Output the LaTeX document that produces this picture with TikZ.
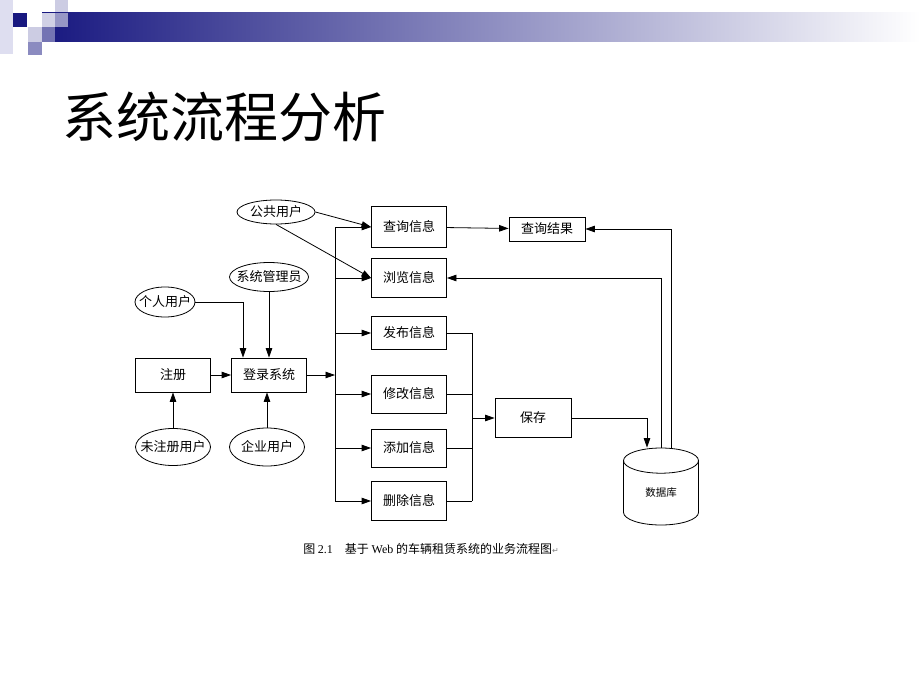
\documentclass[tikz,border=0pt]{standalone}
\usepackage{fontspec}
\newfontfamily\cjk{Noto Sans CJK SC}
\newfontfamily\lat{Liberation Serif}
\newfontfamily\sym{DejaVu Sans}
\usetikzlibrary{arrows.meta,shapes.geometric}
\definecolor{navyc}{RGB}{24,24,128}
\definecolor{lilac}{RGB}{222,222,240}
\newcommand\cl[1]{\makebox[0pt]{#1}}

\begin{document}
\begin{tikzpicture}[x=1pt, y=-1pt, line width=0.8pt, >={Triangle[length=9.5pt,width=6.5pt]},
	box/.style={draw, minimum width=75pt, minimum height=38pt, inner sep=0pt, font=\cjk\fontsize{13}{13}\selectfont},
	usr/.style={draw, ellipse, inner sep=0pt, font=\cjk\fontsize{13}{13}\selectfont}]
	\useasboundingbox[fill=white] (0,0) rectangle (920,690);
	% banner
	\fill[lilac] (0,0) rectangle (13,54);
	\fill[navyc] (13,13) rectangle (27,27);
	\fill[navyc!22] (28,27) rectangle (42,42);
	\fill[navyc!50] (28,42) rectangle (42,55);
	\fill[navyc!22] (55,0) rectangle (68,13);
	\shade[left color=navyc, middle color=navyc!45, right color=white] (42,13) rectangle (920,42);
	\fill[navyc!20] (42,13) rectangle (55,27);
	\fill[navyc!45] (55,13) rectangle (68,27);
	\fill[navyc!60] (42,27) rectangle (55,42);
	\node[font=\cjk\fontsize{54}{54}\selectfont, anchor=base west, inner sep=0pt] (title) at (62,137) {系统流程分析};
	% users
	\node[usr, minimum width=78pt, minimum height=24pt] (gg) at (276,212) {\cl{公共用户}};
	\node[usr, minimum width=79pt, minimum height=29pt] (gl) at (269,277) {\cl{系统管理员}};
	\node[usr, minimum width=60pt, minimum height=30pt] (gr) at (165,302) {\cl{个人用户}};
	\node[usr, minimum width=75pt, minimum height=37pt] (wz) at (173,447) {\cl{未注册用户}};
	\node[usr, minimum width=75pt, minimum height=38pt] (qy) at (267,447) {\cl{企业用户}};
	% boxes
	\node[box, minimum height=34pt] (zc) at (173,375) {注册};
	\node[box, minimum height=34pt] (dl) at (269,375) {登录系统};
	\node[box, minimum height=41pt] (cx) at (409,227) {查询信息};
	\node[box, minimum height=39pt] (ll) at (409,278) {浏览信息};
	\node[box, minimum height=33pt] (fb) at (409,333) {发布信息};
	\node[box] (xg) at (409,394) {修改信息};
	\node[box] (tj) at (409,448) {添加信息};
	\node[box, minimum height=39pt] (sc) at (409,501) {删除信息};
	\node[box, minimum width=76pt, minimum height=24pt] (cj) at (547,229) {查询结果};
	\node[box, minimum width=76pt, minimum height=39pt] (bc) at (533,418) {保存};
	\node[draw, cylinder, shape border rotate=90, aspect=0.8, minimum width=75pt, minimum height=77pt, inner sep=0pt, font=\cjk\fontsize{10.5}{10.5}\selectfont] (db) at (661,493) {数据库};
	\coordinate (bus) at (335,375);
	\coordinate (col) at (472,418);
	% flows
	\draw[->] (zc) -- (dl);
	\draw[->] (wz) -- (zc);
	\draw[->] (qy.north) -- (qy.north |- dl.south);
	\draw[->] (gl.south) -- (gl.south |- dl.north);
	\draw[->] (gr.east) -| ([xshift=-26pt]dl.north);
	\draw[->] (dl) -- (bus);
	\draw (bus |- cx.west) -- (bus |- sc.west);
	\foreach \n in {cx,ll,fb,xg,tj,sc}
		\draw[->] (bus |- \n.west) -- (\n.west);
	\draw[->] (gg.east) -- (cx.west);
	\draw[->] (gg.south) -- (ll.west);
	\draw[->] (cx) -- (cj);
	\foreach \n in {fb,xg,tj,sc}
		\draw (\n.east) -- (col |- \n.east);
	\draw (col |- fb.east) -- (col |- sc.east);
	\draw[->] (col) -- (bc);
	\draw[->] (bc.east) -| ([xshift=-14pt]db.north);
	\draw[->] (db.north) |- (ll.east);
	\draw[->] ([xshift=10pt]db.north) |- (cj.east);
	\node[font=\cjk\fontsize{12}{12}\selectfont] (cap) at (431,549) {图 {\lat 2.1}\quad 基于 {\lat Web} 的车辆租赁系统的业务流程图{\sym\color{gray}\fontsize{8}{8}\selectfont ↵}};
\end{tikzpicture}
\end{document}
